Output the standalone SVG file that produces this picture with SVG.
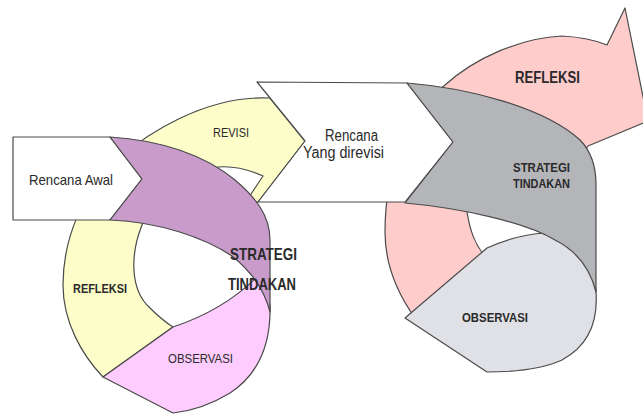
<svg xmlns="http://www.w3.org/2000/svg" width="643" height="415" viewBox="0 0 643 415">
<style>
.s{stroke:#4a4a4a;stroke-width:1.2;stroke-linejoin:round}
.t{font-family:"Liberation Sans",Arial,sans-serif;fill:#2a2a2a}
.b{font-weight:bold}
</style>
<rect width="643" height="415" fill="#ffffff"/>
<g id="revisi-left">
<path class="s" fill="#FDFDC9" d="M103,377 C82,355 63,322 63,285 C63,240 82,190 120,158 C145,135 205,95 270,98 L305,141 L258,202 L247,200 L263,176 C245,168 230,166 218,167 C185,172 155,198 142,225 C130,255 130,290 150,308 C158,316 165,322 173,327 Z"/>
<text class="t" x="213" y="137" font-size="13" textLength="36" lengthAdjust="spacingAndGlyphs">REVISI</text>
<text class="t b" x="73" y="293" font-size="13" textLength="54" lengthAdjust="spacingAndGlyphs">REFLEKSI</text>
</g>
<g id="refleksi-right">
<path class="s" fill="#FFCCCC" d="M415,318 C395,290 385,262 385,232 C385,165 410,112 445,85 C475,58 520,38 562,36 C580,37 595,40 607,45 L625,8 L648,121 L588,146 L582,155 C555,142 500,150 476,178 C466,192 466,202 467,212 C470,230 474,243 486,258 Z"/>
<text class="t b" x="515" y="83" font-size="16" textLength="65" lengthAdjust="spacingAndGlyphs">REFLEKSI</text>
</g>
<g id="observasi-right">
<path class="s" fill="#E0E1E7" d="M405,318 L487,248 C505,240 525,234 545,233 L575,240 L594,270 L596,292 C598,320 590,345 562,360 C542,369 512,372 487,372 Z"/>
<text class="t b" x="462" y="322" font-size="13" textLength="66" lengthAdjust="spacingAndGlyphs">OBSERVASI</text>
</g>
<g id="rencana-awal">
<path class="s" fill="#ffffff" d="M13,137 L110,137 L142,179 L110,220 L13,220 Z"/>
<text class="t" x="29" y="185" font-size="15" textLength="84" lengthAdjust="spacingAndGlyphs">Rencana Awal</text>
</g>
<g id="rencana-direvisi">
<path class="s" fill="#ffffff" d="M257,82 L407,83 L453,142 L405,202 L258,202 L305,141 Z"/>
<text class="t" x="325" y="141" font-size="16" textLength="53" lengthAdjust="spacingAndGlyphs">Rencana</text>
<text class="t" x="303" y="158" font-size="16" textLength="81" lengthAdjust="spacingAndGlyphs">Yang direvisi</text>
</g>
<g id="observasi-left">
<path class="s" fill="#FFCCFF" d="M103,377 L173,327 C200,318 232,302 258,276 L266,283 L270,305 C271,340 262,372 230,393 C212,404 192,411 173,413 Z"/>
<text class="t" x="168" y="363" font-size="13" textLength="65" lengthAdjust="spacingAndGlyphs">OBSERVASI</text>
</g>
<g id="strategi-left">
<path class="s" fill="#C99BCB" d="M110,137 C160,140 205,155 235,180 C255,197 270,215 270,240 L270,312 C265,292 252,272 232,256 C205,238 160,222 110,220 L142,179 Z"/>
<text class="t b" x="230" y="260" font-size="17" textLength="67" lengthAdjust="spacingAndGlyphs">STRATEGI</text>
<text class="t b" x="228" y="290" font-size="17" textLength="68" lengthAdjust="spacingAndGlyphs">TINDAKAN</text>
</g>
<g id="strategi-right">
<path class="s" fill="#B4B5B9" d="M407,83 C470,88 545,108 580,140 C592,152 596,168 596,185 L596,292 C590,268 575,250 555,240 C525,222 460,208 405,203 L453,142 Z"/>
<text class="t b" x="513" y="172" font-size="12" textLength="57" lengthAdjust="spacingAndGlyphs">STRATEGI</text>
<text class="t b" x="513" y="188" font-size="12" textLength="57" lengthAdjust="spacingAndGlyphs">TINDAKAN</text>
</g>
<g id="connectors"></g>
</svg>
